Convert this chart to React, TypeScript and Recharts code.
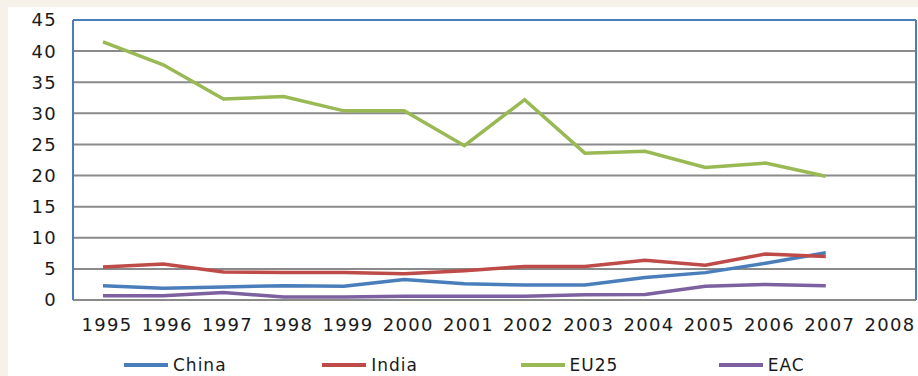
import { LineChart, Line, XAxis, YAxis, CartesianGrid, Legend, ReferenceLine } from "recharts";

const years = ["1995", "1996", "1997", "1998", "1999", "2000", "2001", "2002", "2003", "2004", "2005", "2006", "2007", "2008"];
const china = [2.3, 1.9, 2.1, 2.3, 2.2, 3.3, 2.6, 2.4, 2.4, 3.6, 4.4, 5.9, 7.6, null];
const india = [5.3, 5.8, 4.5, 4.4, 4.4, 4.2, 4.7, 5.4, 5.4, 6.4, 5.6, 7.4, 7.0, null];
const eu25 = [41.5, 37.8, 32.3, 32.7, 30.4, 30.4, 24.8, 32.2, 23.6, 23.9, 21.3, 22.0, 19.9, null];
const eac = [0.7, 0.7, 1.2, 0.5, 0.5, 0.6, 0.6, 0.6, 0.85, 0.9, 2.2, 2.5, 2.3, null];
const yTicks = [0, 5, 10, 15, 20, 25, 30, 35, 40, 45];

const series = [
    { key: "china", name: "China", color: "#4a7ebb" },
    { key: "india", name: "India", color: "#be4b48" },
    { key: "eu25", name: "EU25", color: "#98b954" },
    { key: "eac", name: "EAC", color: "#7d60a0" },
];

const data = years.map((year, i) => ({
    year,
    china: china[i],
    india: india[i],
    eu25: eu25[i],
    eac: eac[i],
}));

const FONT = "'DejaVu Sans', sans-serif";
const BLUE = "#4a7ebb";

// legend drawn like the Excel one: short thick line then the label
const LegendRow = () => (
    <div style={{ display: "flex", paddingLeft: 116, height: 36, alignItems: "center", fontFamily: FONT, lineHeight: "20px" }}>
        {series.map((s) => (
            <div key={s.key} style={{ width: 207, display: "flex", alignItems: "center" }}>
                <span style={{ display: "inline-block", width: 44, height: 4, background: s.color, marginRight: 5 }} />
                <span style={{ fontSize: 17, letterSpacing: 1, color: "#1a1a1a" }}>{s.name}</span>
            </div>
        ))}
    </div>
);

export default function App() {
    return (
        <div style={{ position: "absolute", left: 0, top: 0, width: 918, height: 376, background: "#f6f2ea", overflow: "hidden" }}>
            <div style={{ position: "absolute", left: 8, top: 7, width: 910, height: 369, background: "#ffffff" }}>
                <LineChart width={910} height={369} data={data} margin={{ top: 13, right: 1, left: 0, bottom: 0 }}>
                    <CartesianGrid vertical={false} stroke="#8a8a8a" strokeWidth={2} />
                    <XAxis
                        dataKey="year"
                        height={40}
                        padding={{ left: 30, right: 30 }}
                        tickLine={false}
                        tickSize={0}
                        tickMargin={18}
                        axisLine={{ stroke: "#8a8a8a", strokeWidth: 2 }}
                        tick={{ fill: "#1a1a1a", fontSize: 18, fontFamily: FONT, letterSpacing: 1.3, dx: 4 }}
                        interval={0}
                    />
                    <YAxis
                        width={65}
                        domain={[0, 45]}
                        ticks={yTicks}
                        tickLine={false}
                        tickSize={0}
                        tickMargin={16}
                        axisLine={{ stroke: BLUE, strokeWidth: 2 }}
                        tick={{ fill: "#1a1a1a", fontSize: 18, fontFamily: FONT, letterSpacing: 1.3 }}
                    />
                    <YAxis
                        yAxisId="right"
                        orientation="right"
                        width={1}
                        domain={[0, 45]}
                        tick={false}
                        tickLine={false}
                        axisLine={{ stroke: BLUE, strokeWidth: 2 }}
                    />
                    <ReferenceLine y={45} stroke={BLUE} strokeWidth={2} />
                    <Legend verticalAlign="bottom" height={36} wrapperStyle={{ bottom: -7 }} content={<LegendRow />} />
                    {series.map((s) => (
                        <Line
                            key={s.key}
                            dataKey={s.key}
                            name={s.name}
                            stroke={s.color}
                            strokeWidth={3.5}
                            dot={false}
                            type="linear"
                            isAnimationActive={false}
                        />
                    ))}
                </LineChart>
            </div>
        </div>
    );
}
